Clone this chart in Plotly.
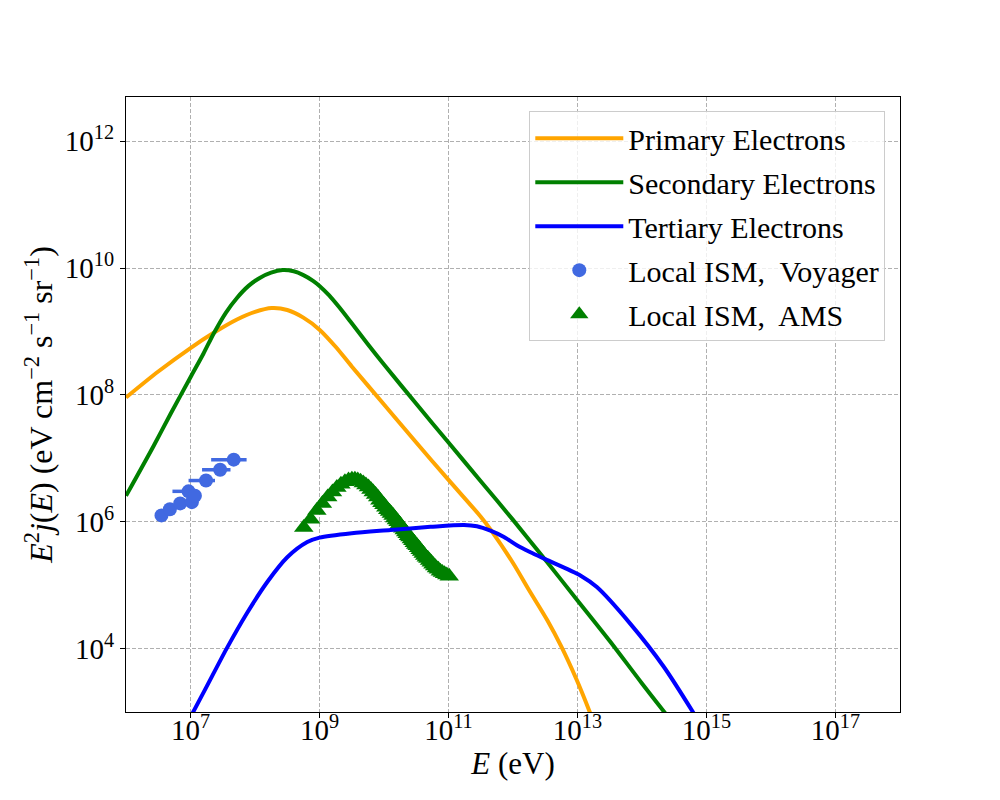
import numpy as np
import plotly.graph_objects as go

# model curves (log10 E [eV], log10 E^2 j)
primary_logE = [6.0, 6.5, 7.0, 7.36, 7.72, 8.0, 8.26, 8.5, 8.75, 9.0, 9.25, 9.5, 10.0, 10.5,
                11.0, 11.5, 11.65, 12.0, 12.25, 12.53, 12.75, 12.99, 13.19, 13.3]
primary_logY = [7.96, 8.37, 8.74, 8.98, 9.19, 9.31, 9.37, 9.34, 9.22, 9.03, 8.76, 8.45, 7.85, 7.25,
                6.66, 6.08, 5.88, 5.35, 4.92, 4.45, 4.03, 3.50, 3.00, 2.70]

secondary_logE = [6.0, 6.43, 6.69, 7.0, 7.2, 7.36, 7.55, 7.72, 7.9, 8.08, 8.25, 8.43, 8.6, 8.75,
                  8.9, 9.0, 9.15, 9.3, 9.5, 9.75, 10.0, 10.5, 11.0, 11.5, 12.0, 12.5, 13.0,
                  13.5, 14.0, 14.5]
secondary_logY = [6.41, 7.20, 7.70, 8.28, 8.65, 8.97, 9.30, 9.53, 9.72, 9.85, 9.93, 9.97, 9.95, 9.89,
                  9.80, 9.72, 9.57, 9.39, 9.13, 8.80, 8.48, 7.86, 7.25, 6.64, 6.03, 5.40, 4.76,
                  4.12, 3.45, 2.80]

tertiary_logE = [7.0, 7.25, 7.56, 7.87, 8.19, 8.5, 8.81, 9.0, 9.5, 10.1, 10.72, 11.24, 11.44, 11.65,
                 11.86, 12.06, 12.27, 12.5, 13.05, 13.3, 13.82, 14.34, 14.85]
tertiary_logY = [2.92, 3.40, 4.00, 4.55, 5.05, 5.44, 5.68, 5.75, 5.82, 5.87, 5.92, 5.95, 5.93, 5.86,
                 5.76, 5.63, 5.52, 5.41, 5.15, 4.97, 4.39, 3.71, 2.90]

# Voyager local ISM electrons (eV, eV cm^-2 s^-1 sr^-1)
voyager_E = [3.55e6, 4.79e6, 6.92e6, 9.33e6, 1.05e7, 1.17e7, 1.74e7, 2.88e7, 4.68e7]
voyager_Y = [1.26e6, 1.58e6, 1.95e6, 3.02e6, 2.04e6, 2.57e6, 4.47e6, 6.61e6, 9.55e6]
voyager_E_lo = [3.1e6, 4.2e6, 6.1e6, 5.25e6, 9.2e6, 1.03e7, 9.33e6, 1.51e7, 2.09e7]
voyager_E_hi = [4.0e6, 5.4e6, 7.9e6, 1.26e7, 1.2e7, 1.33e7, 2.40e7, 4.17e7, 7.41e7]

# AMS electrons
ams_E_GeV = [0.57, 0.73, 0.91, 1.11, 1.34, 1.59, 1.86, 2.15, 2.48, 2.82,
             3.18, 3.54, 3.92, 4.33, 4.77, 5.24, 5.74, 6.27, 6.81, 7.39,
             7.99, 8.62, 9.28, 9.96, 10.67, 11.42, 12.19, 12.99, 13.83, 14.69,
             15.59, 16.52, 17.48, 18.48, 19.51, 20.58, 21.69, 22.83, 24.02, 25.26,
             26.57, 27.96, 29.44, 31.01, 32.67, 34.43, 36.32, 38.33, 40.49, 42.79,
             45.27, 47.93, 50.81, 53.93, 57.33, 61.05, 65.12, 69.64, 74.67, 80.31,
             86.71, 94.06, 102.6]
ams_Y = [8.13e5, 1.10e6, 1.51e6, 1.95e6, 2.45e6, 2.95e6, 3.47e6, 3.89e6, 4.27e6, 4.57e6,
         4.68e6, 4.68e6, 4.57e6, 4.37e6, 4.07e6, 3.80e6, 3.55e6, 3.24e6, 2.95e6, 2.69e6,
         2.45e6, 2.19e6, 2.00e6, 1.86e6, 1.70e6, 1.55e6, 1.45e6, 1.35e6, 1.26e6, 1.15e6,
         1.07e6, 1.00e6, 9.33e5, 8.51e5, 7.94e5, 7.41e5, 6.92e5, 6.46e5, 6.03e5, 5.75e5,
         5.37e5, 5.01e5, 4.68e5, 4.37e5, 4.17e5, 3.89e5, 3.63e5, 3.39e5, 3.16e5, 2.95e5,
         2.75e5, 2.63e5, 2.45e5, 2.29e5, 2.14e5, 2.00e5, 1.86e5, 1.78e5, 1.66e5, 1.58e5,
         1.51e5, 1.45e5, 1.38e5]

x_ticks = [1e7, 1e9, 1e11, 1e13, 1e15, 1e17]
x_ticktext = ["10<sup>7</sup>", "10<sup>9</sup>", "10<sup>11</sup>", "10<sup>13</sup>",
              "10<sup>15</sup>", "10<sup>17</sup>"]
y_ticks = [1e4, 1e6, 1e8, 1e10, 1e12]
y_ticktext = ["10<sup>4</sup>", "10<sup>6</sup>", "10<sup>8</sup>", "10<sup>10</sup>", "10<sup>12</sup>"]

FONT = "Liberation Serif"

fig = go.Figure()

# data first (curves are drawn over them), legend order fixed with legendrank
voy_E = np.array(voyager_E)
fig.add_trace(go.Scatter(
    x=voyager_E, y=voyager_Y, mode="markers", name="Local ISM,  Voyager",
    marker=dict(color="royalblue", size=14, symbol="circle"),
    error_x=dict(type="data", symmetric=False,
                 array=np.array(voyager_E_hi) - voy_E, arrayminus=voy_E - np.array(voyager_E_lo),
                 color="royalblue", thickness=3.5, width=0),
    error_y=dict(type="percent", value=8, color="royalblue", thickness=3.5, width=0),
    legendgroup="voy", legendrank=4,
))
fig.add_trace(go.Scatter(
    x=np.array(ams_E_GeV) * 1e9, y=ams_Y, mode="markers", name="Local ISM,  AMS",
    marker=dict(color="green", size=17, symbol="triangle-up"),
    error_y=dict(type="percent", value=4, color="green", thickness=3, width=0),
    legendgroup="ams", legendrank=5,
))

curves = [
    ("Primary Electrons", primary_logE, primary_logY, "orange", 1),
    ("Secondary Electrons", secondary_logE, secondary_logY, "green", 2),
    ("Tertiary Electrons", tertiary_logE, tertiary_logY, "blue", 3),
]
for name, lx, ly, col, rank in curves:
    fig.add_trace(go.Scatter(
        x=10 ** np.array(lx), y=10 ** np.array(ly), mode="lines", name=name,
        line=dict(color=col, width=4, shape="spline", smoothing=0.8),
        legendgroup=name, legendrank=rank,
    ))

axis_style = dict(
    type="log", showline=True, linecolor="black", linewidth=1.2, mirror=True,
    ticks="outside", ticklen=5, tickwidth=1.2, tickcolor="black",
    showgrid=True, gridcolor="#b0b0b0", gridwidth=1, griddash="4px,2px",
    tickfont=dict(family=FONT, size=29, color="black"),
    zeroline=False, automargin=False,
)

# the page body adds an 8px offset, margins compensate for it
fig.update_layout(
    width=1000, height=800,
    margin=dict(l=118, r=108, t=89, b=96, autoexpand=False),
    paper_bgcolor="white", plot_bgcolor="white",
    font=dict(family=FONT, color="black"),
    xaxis=dict(axis_style, range=[6, 18], tickvals=x_ticks, ticktext=x_ticktext,
               ticklabelstandoff=-13,
               title=dict(text="<i>E</i> (eV)", standoff=6,
                          font=dict(family=FONT, size=31, color="black"))),
    yaxis=dict(axis_style, range=[3, np.log10(5e12)], tickvals=y_ticks, ticktext=y_ticktext,
               title=dict(text="<i>E</i><sup>2</sup><i>j</i>(<i>E</i>) (eV cm<sup>−2</sup> s<sup>−1</sup> sr<sup>−1</sup>)",
                          standoff=2, font=dict(family=FONT, size=32, color="black"))),
    legend=dict(
        x=0.981, y=0.977, xanchor="right", yanchor="top",
        bgcolor="rgba(255,255,255,0.8)", bordercolor="#cccccc", borderwidth=1,
        font=dict(family=FONT, size=30, color="black"),
        itemwidth=88, tracegroupgap=2, traceorder="grouped",
    ),
    showlegend=True,
)

fig.write_html("out.html")
